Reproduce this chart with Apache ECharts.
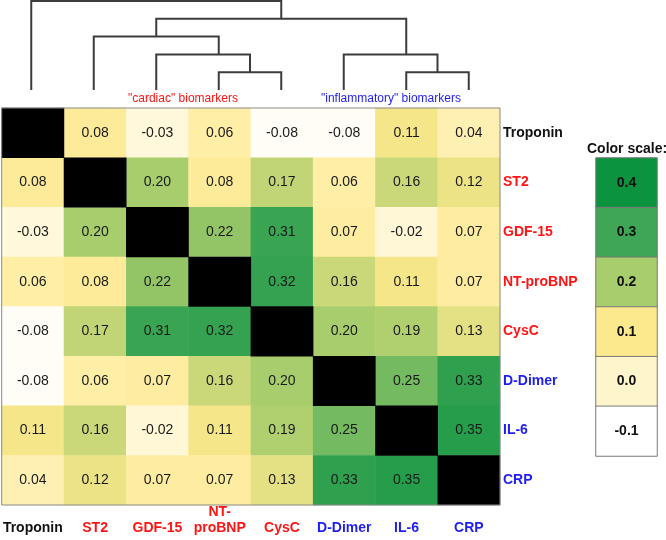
<!DOCTYPE html>
<html>
<head>
<meta charset="utf-8">
<script src="https://cdn.jsdelivr.net/npm/echarts@6/dist/echarts.min.js"></script>
<style>
  html, body { margin: 0; padding: 0; background: #ffffff; }
  #chart { width: 666px; height: 540px; }
</style>
</head>
<body>
<div id="chart"></div>
<script>
// ---- data ----
const biomarkers = ['Troponin', 'ST2', 'GDF-15', 'NT-proBNP', 'CysC', 'D-Dimer', 'IL-6', 'CRP'];
const bottomTickLabels = ['Troponin', 'ST2', 'GDF-15', 'NT-\nproBNP', 'CysC', 'D-Dimer', 'IL-6', 'CRP'];
const biomarkerGroup = ['none', 'cardiac', 'cardiac', 'cardiac', 'cardiac', 'inflammatory', 'inflammatory', 'inflammatory'];

// correlation rows (diagonal = 1, drawn black)
const rowTroponin = [1, 0.08, -0.03, 0.06, -0.08, -0.08, 0.11, 0.04];
const rowST2      = [0.08, 1, 0.20, 0.08, 0.17, 0.06, 0.16, 0.12];
const rowGDF15    = [-0.03, 0.20, 1, 0.22, 0.31, 0.07, -0.02, 0.07];
const rowNTproBNP = [0.06, 0.08, 0.22, 1, 0.32, 0.16, 0.11, 0.07];
const rowCysC     = [-0.08, 0.17, 0.31, 0.32, 1, 0.20, 0.19, 0.13];
const rowDDimer   = [-0.08, 0.06, 0.07, 0.16, 0.20, 1, 0.25, 0.33];
const rowIL6      = [0.11, 0.16, -0.02, 0.11, 0.19, 0.25, 1, 0.35];
const rowCRP      = [0.04, 0.12, 0.07, 0.07, 0.13, 0.33, 0.35, 1];
const corrRows = [rowTroponin, rowST2, rowGDF15, rowNTproBNP, rowCysC, rowDDimer, rowIL6, rowCRP];

// colour scale legend
const scaleValues = [0.4, 0.3, 0.2, 0.1, 0.0, -0.1];

// dendrogram merges: [left child, right child, merge height, drawn position (leaf-index units)]
const mergeNames = ['n0', 'n1', 'n2', 'n3', 'n4', 'n5', 'n6'];
const mergeLeft   = ['NT-proBNP', 'IL-6', 'GDF-15', 'D-Dimer', 'ST2', 'n4', 'Troponin'];
const mergeRight  = ['CysC', 'CRP', 'n0', 'n1', 'n2', 'n3', 'n5'];
const mergeHeight = [1, 1, 2, 2, 3, 4, 5];
const mergePos    = [3.5, 6.5, 3, 6, 2, 4, 2];

// ---- styling ----
const FONT = '"Liberation Sans", Arial, Helvetica, sans-serif';
const groupColor = { none: '#111111', cardiac: '#ff1414', inflammatory: '#1e1ef2' };
const scaleColors = ['#ffffff', '#fff5cc', '#fde98d', '#a8cd6c', '#3ea654', '#0b933f'];

// ---- build series data ----
const cellData = [];
const diagData = [];
corrRows.forEach(function (row, r) {
  row.forEach(function (v, c) {
    if (r === c) diagData.push([c, r, v]);
    else cellData.push([c, r, v]);
  });
});
const scaleData = scaleValues.map(function (v, i) { return [0, i, v]; });

function nodeInfo(name) {
  const li = biomarkers.indexOf(name);
  if (li >= 0) return { pos: li, h: 0 };
  const mi = mergeNames.indexOf(name);
  return { pos: mergePos[mi], h: mergeHeight[mi] };
}
const dendroData = mergeNames.map(function (n, i) { return [mergePos[i], mergeHeight[i]]; });

const chart = echarts.init(document.getElementById('chart'), null, { renderer: 'canvas' });

const option = {
  backgroundColor: '#ffffff',
  animation: false,
  textStyle: { fontFamily: FONT },
  grid: [
    { left: 0, top: 108, width: 500, height: 397, show: true, z: 5,
      backgroundColor: 'transparent', borderColor: '#8a8a8a', borderWidth: 1 },
    { left: 0, top: 1, width: 500, height: 89 },
    { left: 596, top: 158, width: 61, height: 298 }
  ],
  xAxis: [
    { type: 'category', gridIndex: 0, data: biomarkers, position: 'bottom',
      axisLine: { show: false }, axisTick: { show: false }, splitLine: { show: false },
      axisLabel: {
        interval: 0, margin: 31, verticalAlign: 'bottom', lineHeight: 16,
        fontSize: 14, fontWeight: 'bold', fontFamily: FONT,
        formatter: function (v, i) { return bottomTickLabels[i]; },
        color: function (v, i) { return groupColor[biomarkerGroup[biomarkers.indexOf(v)]]; }
      } },
    { type: 'value', gridIndex: 1, min: -0.5, max: 7.5, show: false },
    { type: 'category', gridIndex: 2, data: ['scale'], show: false }
  ],
  yAxis: [
    { type: 'category', gridIndex: 0, data: biomarkers, inverse: true, position: 'right',
      axisLine: { show: false }, axisTick: { show: false }, splitLine: { show: false },
      axisLabel: {
        interval: 0, margin: 3, fontSize: 14, fontWeight: 'bold', fontFamily: FONT,
        color: function (v, i) { return groupColor[biomarkerGroup[biomarkers.indexOf(v)]]; }
      } },
    { type: 'value', gridIndex: 1, min: 0, max: 5, show: false },
    { type: 'category', gridIndex: 2, data: scaleValues.map(function (v) { return v.toFixed(1); }), inverse: true, show: false }
  ],
  visualMap: [
    { type: 'continuous', show: false, seriesIndex: [0, 2], dimension: 2,
      min: -0.1, max: 0.4, inRange: { color: scaleColors } },
    { type: 'continuous', show: false, seriesIndex: [1], dimension: 2,
      min: 0, max: 1, inRange: { color: ['#000000', '#000000'] } }
  ],
  graphic: [
    { type: 'text', left: 128, top: 93, silent: true,
      style: { text: '"cardiac" biomarkers', fill: '#ff1414', font: '12px ' + FONT } },
    { type: 'text', left: 321, top: 93, silent: true,
      style: { text: '"inflammatory" biomarkers', fill: '#1e1ef2', font: '12px ' + FONT } },
    { type: 'text', left: 587, top: 142, silent: true,
      style: { text: 'Color scale:', fill: '#111111', font: 'bold 14px ' + FONT } }
  ],
  series: [
    { type: 'heatmap', xAxisIndex: 0, yAxisIndex: 0, data: cellData,
      itemStyle: { borderWidth: 0 },
      label: { show: true, fontSize: 14, color: '#1a1a1a', fontFamily: FONT,
        formatter: function (p) { return p.value[2].toFixed(2); } },
      emphasis: { disabled: true } },
    { type: 'heatmap', xAxisIndex: 0, yAxisIndex: 0, data: diagData,
      itemStyle: { borderWidth: 0 }, label: { show: false }, emphasis: { disabled: true } },
    { type: 'heatmap', xAxisIndex: 2, yAxisIndex: 2, data: scaleData,
      itemStyle: { borderColor: '#7a7a7a', borderWidth: 1 },
      label: { show: true, fontSize: 14, fontWeight: 'bold', color: '#111111', fontFamily: FONT,
        formatter: function (p) { return p.value[2].toFixed(1); } },
      emphasis: { disabled: true } },
    { type: 'custom', xAxisIndex: 1, yAxisIndex: 1, data: dendroData, silent: true,
      encode: { x: 0, y: 1 },
      renderItem: function (params, api) {
        const i = params.dataIndex;
        const a = nodeInfo(mergeLeft[i]);
        const b = nodeInfo(mergeRight[i]);
        const h = mergeHeight[i];
        return {
          type: 'polyline',
          shape: { points: [
            api.coord([a.pos, a.h]), api.coord([a.pos, h]),
            api.coord([b.pos, h]), api.coord([b.pos, b.h])
          ] },
          style: { stroke: '#3c3c3c', lineWidth: 2, fill: null }
        };
      } }
  ]
};
chart.setOption(option);
</script>
</body>
</html>
